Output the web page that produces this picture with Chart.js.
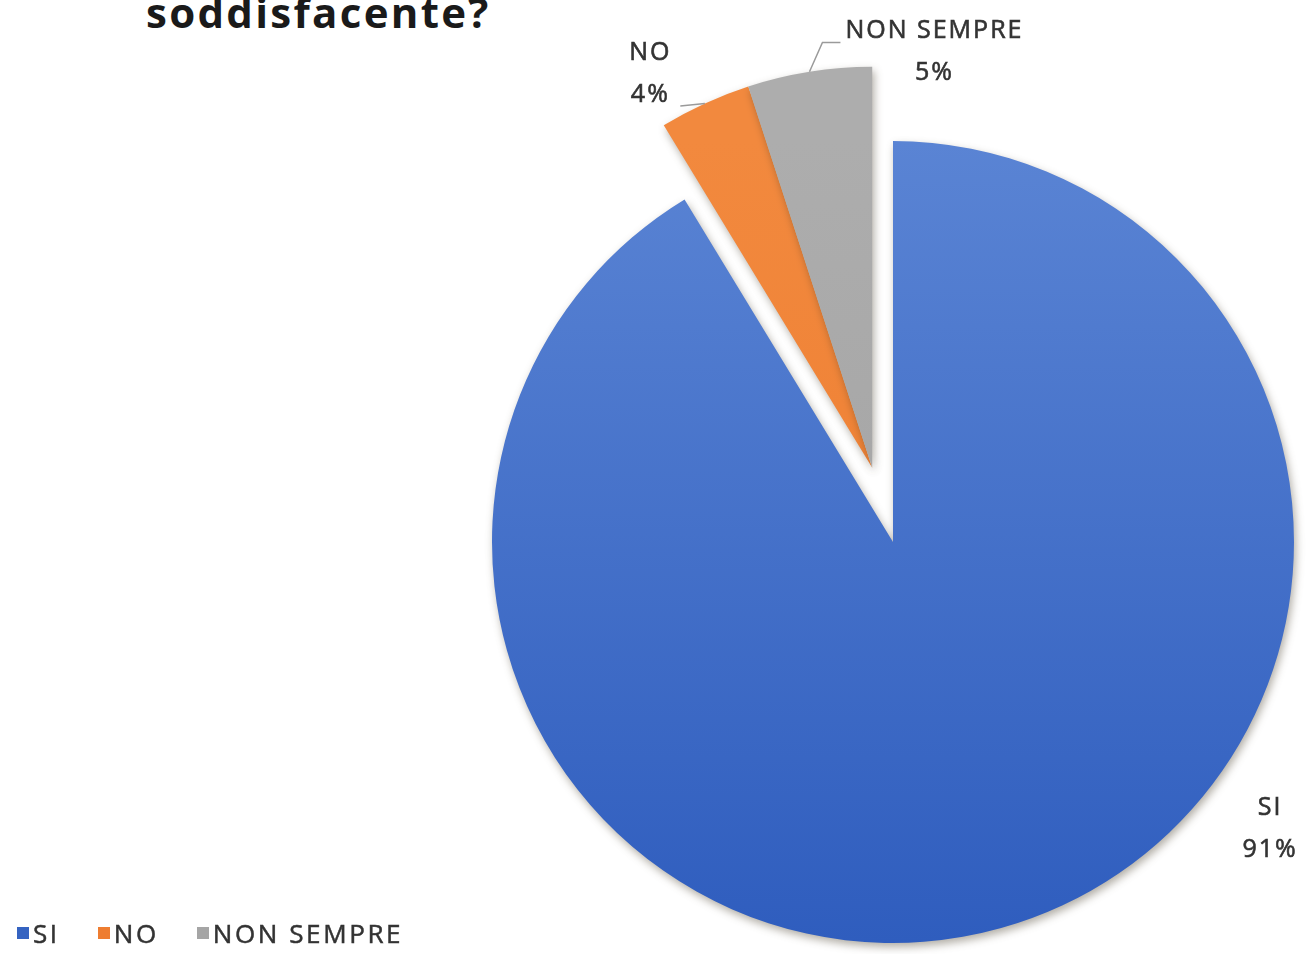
<!DOCTYPE html>
<html>
<head>
<meta charset="utf-8">
<script src="https://cdn.jsdelivr.net/npm/chart.js@4/dist/chart.umd.min.js"></script>
<style>
  html, body { margin: 0; padding: 0; background: #fff; overflow: hidden; }
  body { width: 1306px; height: 954px; position: relative; }
  #title {
    position: absolute; left: 146px; top: -12px; margin: 0;
    font: bold 42px 'Open Sans', sans-serif; line-height: 48px;
    letter-spacing: 2.3px; color: #1a1a1a; white-space: nowrap;
  }
  #pie { position: absolute; left: 0; top: 0; }
  #legend {
    position: absolute; left: 17px; top: 918px; display: flex;
    font: 26px 'Open Sans', sans-serif; line-height: 30px;
    letter-spacing: 2.6px; color: #333;
    -webkit-text-stroke: 0.5px #333;
  }
  #legend .item { display: flex; align-items: center; margin-right: 38px; }
  #legend .box { width: 12px; height: 12px; margin-right: 4px; }
</style>
</head>
<body>
<h1 id="title">soddisfacente?</h1>
<canvas id="pie" width="1306" height="954"></canvas>
<div id="legend"></div>
<script>
const categories = ['SI', 'NO', 'NON SEMPRE'];
const shares = [91.3, 3.7, 5.0];   // shown rounded
const explodedSlices = [1, 2];

// colours: top and bottom of the Office-style gradient, legend swatch
const sliceTop = ['#5A84D4', '#F2893E', '#ADADAD'];
const sliceBottom = ['#2F5DBE', '#EC7A2C', '#A0A0A0'];
const swatch = ['#3563C1', '#EE7D31', '#A5A5A5'];

const pieRadius = 401;

// label placement: angle clockwise from 12 o'clock and distance from the slice centre;
// leader points are offsets from the label centre, starting from the slice's outer edge
const labelPlacement = [
  { angle: 127.3, dist: 474, leader: null },
  { angle: 330.6, dist: 452, leader: [[30, 32]] },
  { angle: 8.5, dist: 421, leader: [[-112, -9], [-94, -9]] }
];

const explodeGroup = {
  id: 'explodeGroup',
  afterDatasetsUpdate(chart, args, opts) {
    const arcs = chart.getDatasetMeta(0).data;
    const group = opts.indices.map(i => arcs[i]);
    const start = Math.min(...group.map(a => a.startAngle));
    const end = Math.max(...group.map(a => a.endAngle));
    const mid = (start + end) / 2;
    group.forEach(a => {
      a.x += Math.cos(mid) * opts.distance;
      a.y += Math.sin(mid) * opts.distance;
    });
  }
};

const softShadow = {
  id: 'softShadow',
  beforeDatasetsDraw(chart) {
    const ctx = chart.ctx;
    ctx.save();
    ctx.shadowColor = 'rgba(60, 50, 30, 0.4)';
    ctx.shadowBlur = 8;
    ctx.shadowOffsetX = 2;
    ctx.shadowOffsetY = 4;
  },
  afterDatasetsDraw(chart) {
    chart.ctx.restore();
  }
};

const sliceLabels = {
  id: 'sliceLabels',
  afterDraw(chart) {
    const ctx = chart.ctx;
    const arcs = chart.getDatasetMeta(0).data;
    ctx.save();
    ctx.font = '25px "Open Sans"';
    ctx.letterSpacing = '2px';
    ctx.fillStyle = '#333';
    ctx.textAlign = 'center';
    ctx.textBaseline = 'middle';
    arcs.forEach((arc, i) => {
      const p = labelPlacement[i];
      const a = (p.angle - 90) * Math.PI / 180;
      const cx = arc.x + Math.cos(a) * p.dist;
      const cy = arc.y + Math.sin(a) * p.dist;
      if (p.leader) {
        const mid = (arc.startAngle + arc.endAngle) / 2;
        ctx.beginPath();
        ctx.moveTo(arc.x + Math.cos(mid) * arc.outerRadius, arc.y + Math.sin(mid) * arc.outerRadius);
        p.leader.forEach(([dx, dy]) => ctx.lineTo(cx + dx, cy + dy));
        ctx.strokeStyle = '#9a9a9a';
        ctx.lineWidth = 1.5;
        ctx.stroke();
      }
      const lines = [categories[i], Math.round(shares[i]) + '%'];
      ctx.strokeStyle = '#333';
      ctx.lineWidth = 0.6;
      lines.forEach((t, k) => {
        const y = cy + (k === 0 ? -21 : 21);
        ctx.fillText(t, cx, y);
        ctx.strokeText(t, cx, y);
      });
    });
    ctx.restore();
  }
};

const chart = new Chart(document.getElementById('pie'), {
  type: 'pie',
  data: {
    labels: categories,
    datasets: [{
      data: shares,
      radius: pieRadius,
      borderWidth: 0,
      backgroundColor(ctx) {
        const area = ctx.chart.chartArea;
        const i = ctx.dataIndex;
        if (!area) return swatch[i];
        const cy = (area.top + area.bottom) / 2;
        const g = ctx.chart.ctx.createLinearGradient(0, cy - pieRadius, 0, cy + pieRadius);
        g.addColorStop(0, sliceTop[i]);
        g.addColorStop(1, sliceBottom[i]);
        return g;
      }
    }]
  },
  options: {
    responsive: false,
    devicePixelRatio: 1,
    animation: false,
    layout: { padding: { left: 480, top: 130, right: 0, bottom: 0 } },
    plugins: {
      legend: { display: false },
      tooltip: { enabled: false },
      explodeGroup: { indices: explodedSlices, distance: 77 }
    }
  },
  plugins: [explodeGroup, softShadow, sliceLabels]
});

// html legend built from the chart's own legend items
const legendEl = document.getElementById('legend');
chart.options.plugins.legend.labels.generateLabels(chart).forEach(item => {
  const el = document.createElement('div');
  el.className = 'item';
  const box = document.createElement('span');
  box.className = 'box';
  box.style.background = swatch[item.index];
  el.appendChild(box);
  el.appendChild(document.createTextNode(item.text));
  legendEl.appendChild(el);
});
</script>
</body>
</html>
